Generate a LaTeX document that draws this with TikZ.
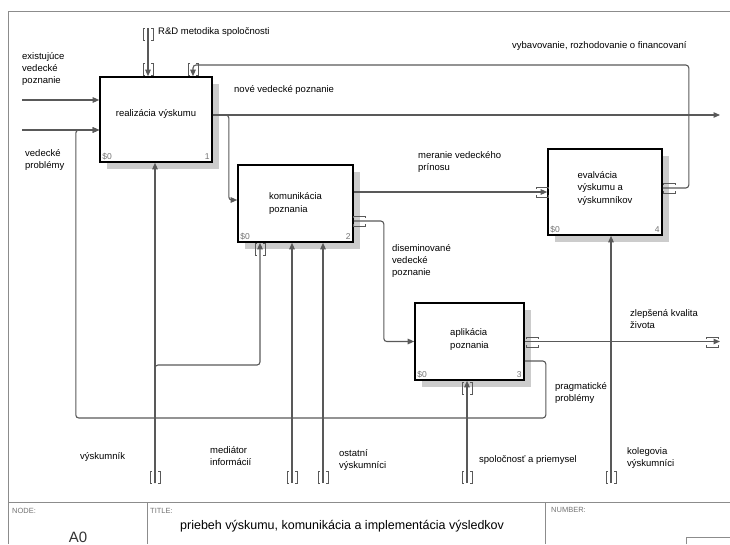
\documentclass[tikz,border=0pt]{standalone}
\usepackage{fontspec}
\setmainfont{Liberation Sans}
\usetikzlibrary{arrows.meta,shadows}
\begin{document}
\begin{tikzpicture}[x=1pt,y=-1pt,>={Triangle[length=6.5pt,width=5.5pt]},
  box/.style={draw=black,line width=1.6pt,fill=white,align=left,
    drop shadow={shadow xshift=7pt,shadow yshift=-7pt,opacity=1,fill=gray!40},
    font=\fontsize{9.5}{12.5}\selectfont},
  nums/.style={label={[corner,anchor=south west]south west:\$0},
    label={[corner,anchor=south east]south east:#1}},
  corner/.style={inner sep=3pt,font=\fontsize{8.5}{9}\selectfont,text=black!55},
  flow/.style={->,draw=black!65,line width=1.1pt,rounded corners=3pt},
  lbl/.style={anchor=west,inner sep=0pt,align=left,font=\fontsize{9.5}{12}\selectfont},
  small/.style={anchor=west,inner sep=0pt,font=\fontsize{7.5}{8}\selectfont,text=black!55},
  tunnel/.style={draw=black!65,line width=0.9pt},
  vtun/.pic={\draw[tunnel] (-3,-6) -- (-5,-6) -- (-5,6) -- (-3,6) (3,-6) -- (5,-6) -- (5,6) -- (3,6);},
  htun/.pic={\draw[tunnel] (-6,-3) -- (-6,-5) -- (6,-5) -- (6,-3) (-6,3) -- (-6,5) -- (6,5) -- (6,3);}]
  \useasboundingbox (0,0) rectangle (730,544);
  % frame and title block
  \draw[black!45,line width=0.8pt] (730,11) -- (8,11) -- (8,544);
  \draw[black!45,line width=0.8pt] (8,502) -- (730,502) (147,502) -- (147,544)
    (545,502) -- (545,544) (686,544) -- (686,537) -- (730,537);
  \node[small] (nodeLbl) at (12,511) {NODE:};
  \node[font=\fontsize{15}{16}\selectfont,text=black!80] (nodeNo) at (78,537) {A0};
  \node[small] (titleLbl) at (150,511) {TITLE:};
  \node[anchor=west,inner sep=0pt,font=\fontsize{12.5}{14}\selectfont] (title) at (180,526)
    {priebeh výskumu, komunikácia a implementácia výsledkov};
  \node[small] (numLbl) at (551,510) {NUMBER:};
  % activities
  \node[box,nums=1,minimum width=112pt,minimum height=85pt,text depth=14pt] (real) at (156,119.5) {realizácia výskumu};
  \node[box,nums=2,minimum width=115pt,minimum height=77pt] (kom) at (295.5,203.5) {komunikácia\\poznania};
  \node[box,nums=3,minimum width=109pt,minimum height=77pt,text depth=6pt] (apl) at (469.5,341.5) {aplikácia\\poznania};
  \node[box,nums=4,minimum width=114pt,minimum height=86pt,text depth=10pt] (eva) at (605,192) {evalvácia\\výskumu a\\výskumníkov};
  % inputs
  \coordinate (exIn) at (22,100);
  \coordinate (vpIn) at (22,130);
  \draw[flow] (exIn) -- (exIn -| real.west);
  \draw[flow] (vpIn) -- (vpIn -| real.west);
  % controls
  \coordinate (rdIn) at (148,28);
  \draw[flow] (rdIn) -- (rdIn |- real.north);
  \draw[flow] ([yshift=4pt]eva.east) -- ++(26,0) -- ++(0,-123) -| ([xshift=37pt]real.north);
  % outputs
  \coordinate (nvOut) at (720,115);
  \coordinate (zkOut) at (720,341.5);
  \draw[flow] ([yshift=4.5pt]real.east) -- (nvOut);
  \draw[flow] ([yshift=4.5pt]real.east) -- ++(16,0) |- ([yshift=3.5pt]kom.west);
  \draw[flow] (kom.east |- eva.west) -- (eva.west);
  \draw[flow] ([yshift=-17.5pt]kom.east) -- ++(30,0) |- (apl.west);
  \draw[flow] (apl.east) -- (zkOut);
  \draw[flow] ([yshift=-19.5pt]apl.east) -- ++(21,0) -- ++(0,57) -- ++(-470,0) |- (vpIn -| real.west);
  % mechanisms
  \coordinate (vyIn) at (155,483);
  \coordinate (meIn) at (292,483);
  \coordinate (osIn) at (323,483);
  \coordinate (spIn) at (467,483);
  \coordinate (koIn) at (611,483);
  \draw[flow] (vyIn) -- (vyIn |- real.south);
  \draw[flow] (vyIn) -- ++(0,-118) -| ([xshift=-35.5pt]kom.south);
  \draw[flow] (meIn) -- (meIn |- kom.south);
  \draw[flow] (osIn) -- (osIn |- kom.south);
  \draw[flow] (spIn) -- (spIn |- apl.south);
  \draw[flow] (koIn) -- (koIn |- eva.south);
  % tunnels
  \pic at (148,34) {vtun};
  \pic at (148,69) {vtun};
  \pic at (193,69) {vtun};
  \pic at (669,188) {htun};
  \pic at (542,192) {htun};
  \pic at (359,221) {htun};
  \pic at (260,249) {vtun};
  \pic at (532,342) {htun};
  \pic at (712,342) {htun};
  \pic at (467,388) {vtun};
  \foreach \x in {155,292,323,467,611} \pic at (\x,477) {vtun};
  % arrow labels
  \node[lbl] (exLbl) at (22,69) {existujúce\\vedecké\\poznanie};
  \node[lbl] (vpLbl) at (25,160) {vedecké\\problémy};
  \node[lbl] (rdLbl) at (158,32) {R\&D metodika spoločnosti};
  \node[lbl] (nvLbl) at (234,90) {nové vedecké poznanie};
  \node[lbl] (fiLbl) at (512,46) {vybavovanie, rozhodovanie o financovaní};
  \node[lbl] (mrLbl) at (418,162) {meranie vedeckého\\prínosu};
  \node[lbl] (diLbl) at (392,261) {diseminované\\vedecké\\poznanie};
  \node[lbl] (zkLbl) at (630,319) {zlepšená kvalita\\života};
  \node[lbl] (ppLbl) at (555,393) {pragmatické\\problémy};
  \node[lbl] (vyLbl) at (80,457) {výskumník};
  \node[lbl] (meLbl) at (210,456) {mediátor\\informácií};
  \node[lbl] (osLbl) at (339,460) {ostatní\\výskumníci};
  \node[lbl] (spLbl) at (479,460) {spoločnosť a priemysel};
  \node[lbl] (koLbl) at (627,458) {kolegovia\\výskumníci};
\end{tikzpicture}
\end{document}
